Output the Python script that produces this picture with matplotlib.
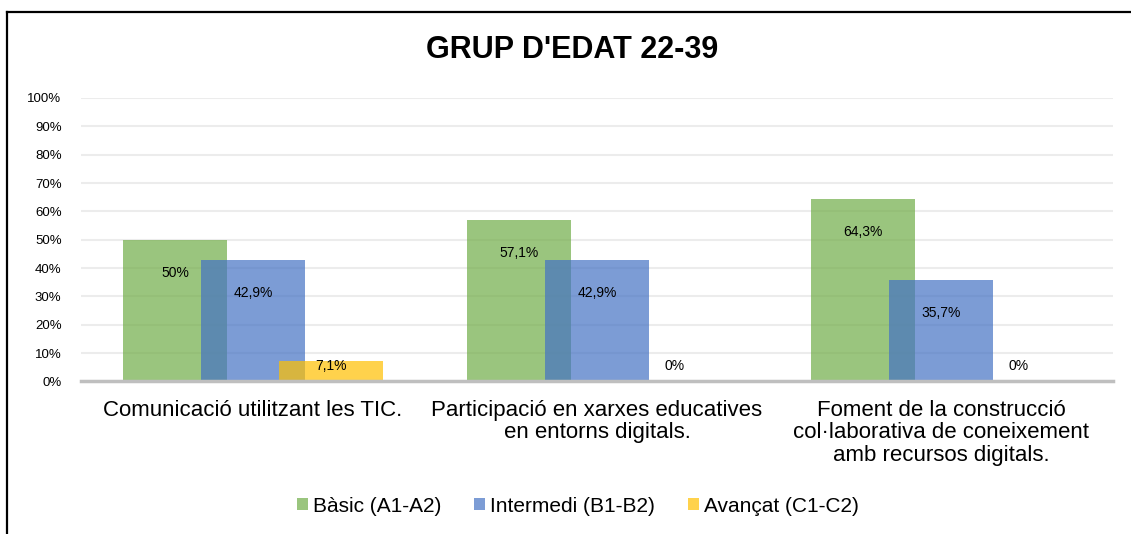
import matplotlib
matplotlib.use("Agg")
import matplotlib.pyplot as plt
import numpy as np
from matplotlib.patches import Patch
from matplotlib.lines import Line2D

plt.rcParams["font.family"] = ["Liberation Sans", "DejaVu Sans"]

title = "GRUP D'EDAT 22-39"
categories = [
    "Comunicació utilitzant les TIC.",
    "Participació en xarxes educatives\nen entorns digitals.",
    "Foment de la construcció\ncol·laborativa de coneixement\namb recursos digitals.",
]
series_names = ["Bàsic (A1-A2)", "Intermedi (B1-B2)", "Avançat (C1-C2)"]
basic = [50.0, 57.1, 64.3]
intermedi = [42.9, 42.9, 35.7]
avancat = [7.1, 0.0, 0.0]
yticks = list(range(0, 101, 10))

colors = ["#70AD47", "#4472C4", "#FFC000"]
alpha = 0.7

fig = plt.figure(figsize=(11.31, 5.34), dpi=100)
ax = fig.add_axes([0.0716, 0.2856, 0.9124, 0.531])

x = np.arange(len(categories))
width = 0.302
step = 0.227

for i, (vals, col) in enumerate(zip([basic, intermedi, avancat], colors)):
    pos = x + (i - 1) * step
    ax.bar(pos, vals, width=width, color=col, alpha=alpha, zorder=2 + i)
    for px, v in zip(pos, vals):
        # inside end, but never lower than just above the base
        ly = max(v - 11.7, 5.6)
        txt = f"{v:g}".replace(".", ",") + "%"
        ax.text(px, ly, txt, ha="center", va="center", fontsize=10,
                color="#000000", zorder=10)

ax.set_xlim(-0.5, 2.5)
ax.set_ylim(0, 100)
ax.set_yticks(yticks)
ax.set_yticklabels([f"{t}%" for t in yticks], fontsize=9.5, color="#000000")
ax.set_xticks(x)
ax.set_xticklabels(categories, fontsize=16, linespacing=1.12)
ax.tick_params(axis="both", length=0)
ax.tick_params(axis="y", pad=14)
ax.tick_params(axis="x", pad=13)
ax.yaxis.grid(True, color="#ececec", linewidth=1.5, zorder=0)
ax.set_axisbelow(True)
for s in ["top", "right", "left"]:
    ax.spines[s].set_visible(False)
ax.spines["bottom"].set_color("#bfbfbf")
ax.spines["bottom"].set_linewidth(2.5)
ax.spines["bottom"].set_zorder(20)

fig.text(0.506, 0.907, title, ha="center", va="center", fontsize=22,
         fontweight="bold")

handles = [Patch(facecolor=c, alpha=alpha, edgecolor="none") for c in colors]
fig.legend(handles, series_names, loc="center", bbox_to_anchor=(0.511, 0.052),
           ncol=3, frameon=False, fontsize=15, handlelength=0.5,
           handleheight=0.5, handletextpad=0.25, columnspacing=1.6)

# frame lines around the chart (left and top)
fig.add_artist(Line2D([7 / 1131, 7 / 1131], [0, 1 - 12 / 534],
                      color="black", linewidth=1.6,
                      transform=fig.transFigure))
fig.add_artist(Line2D([7 / 1131, 1], [1 - 12 / 534, 1 - 12 / 534],
                      color="black", linewidth=1.6,
                      transform=fig.transFigure))

fig.savefig("out.png", dpi=100)
